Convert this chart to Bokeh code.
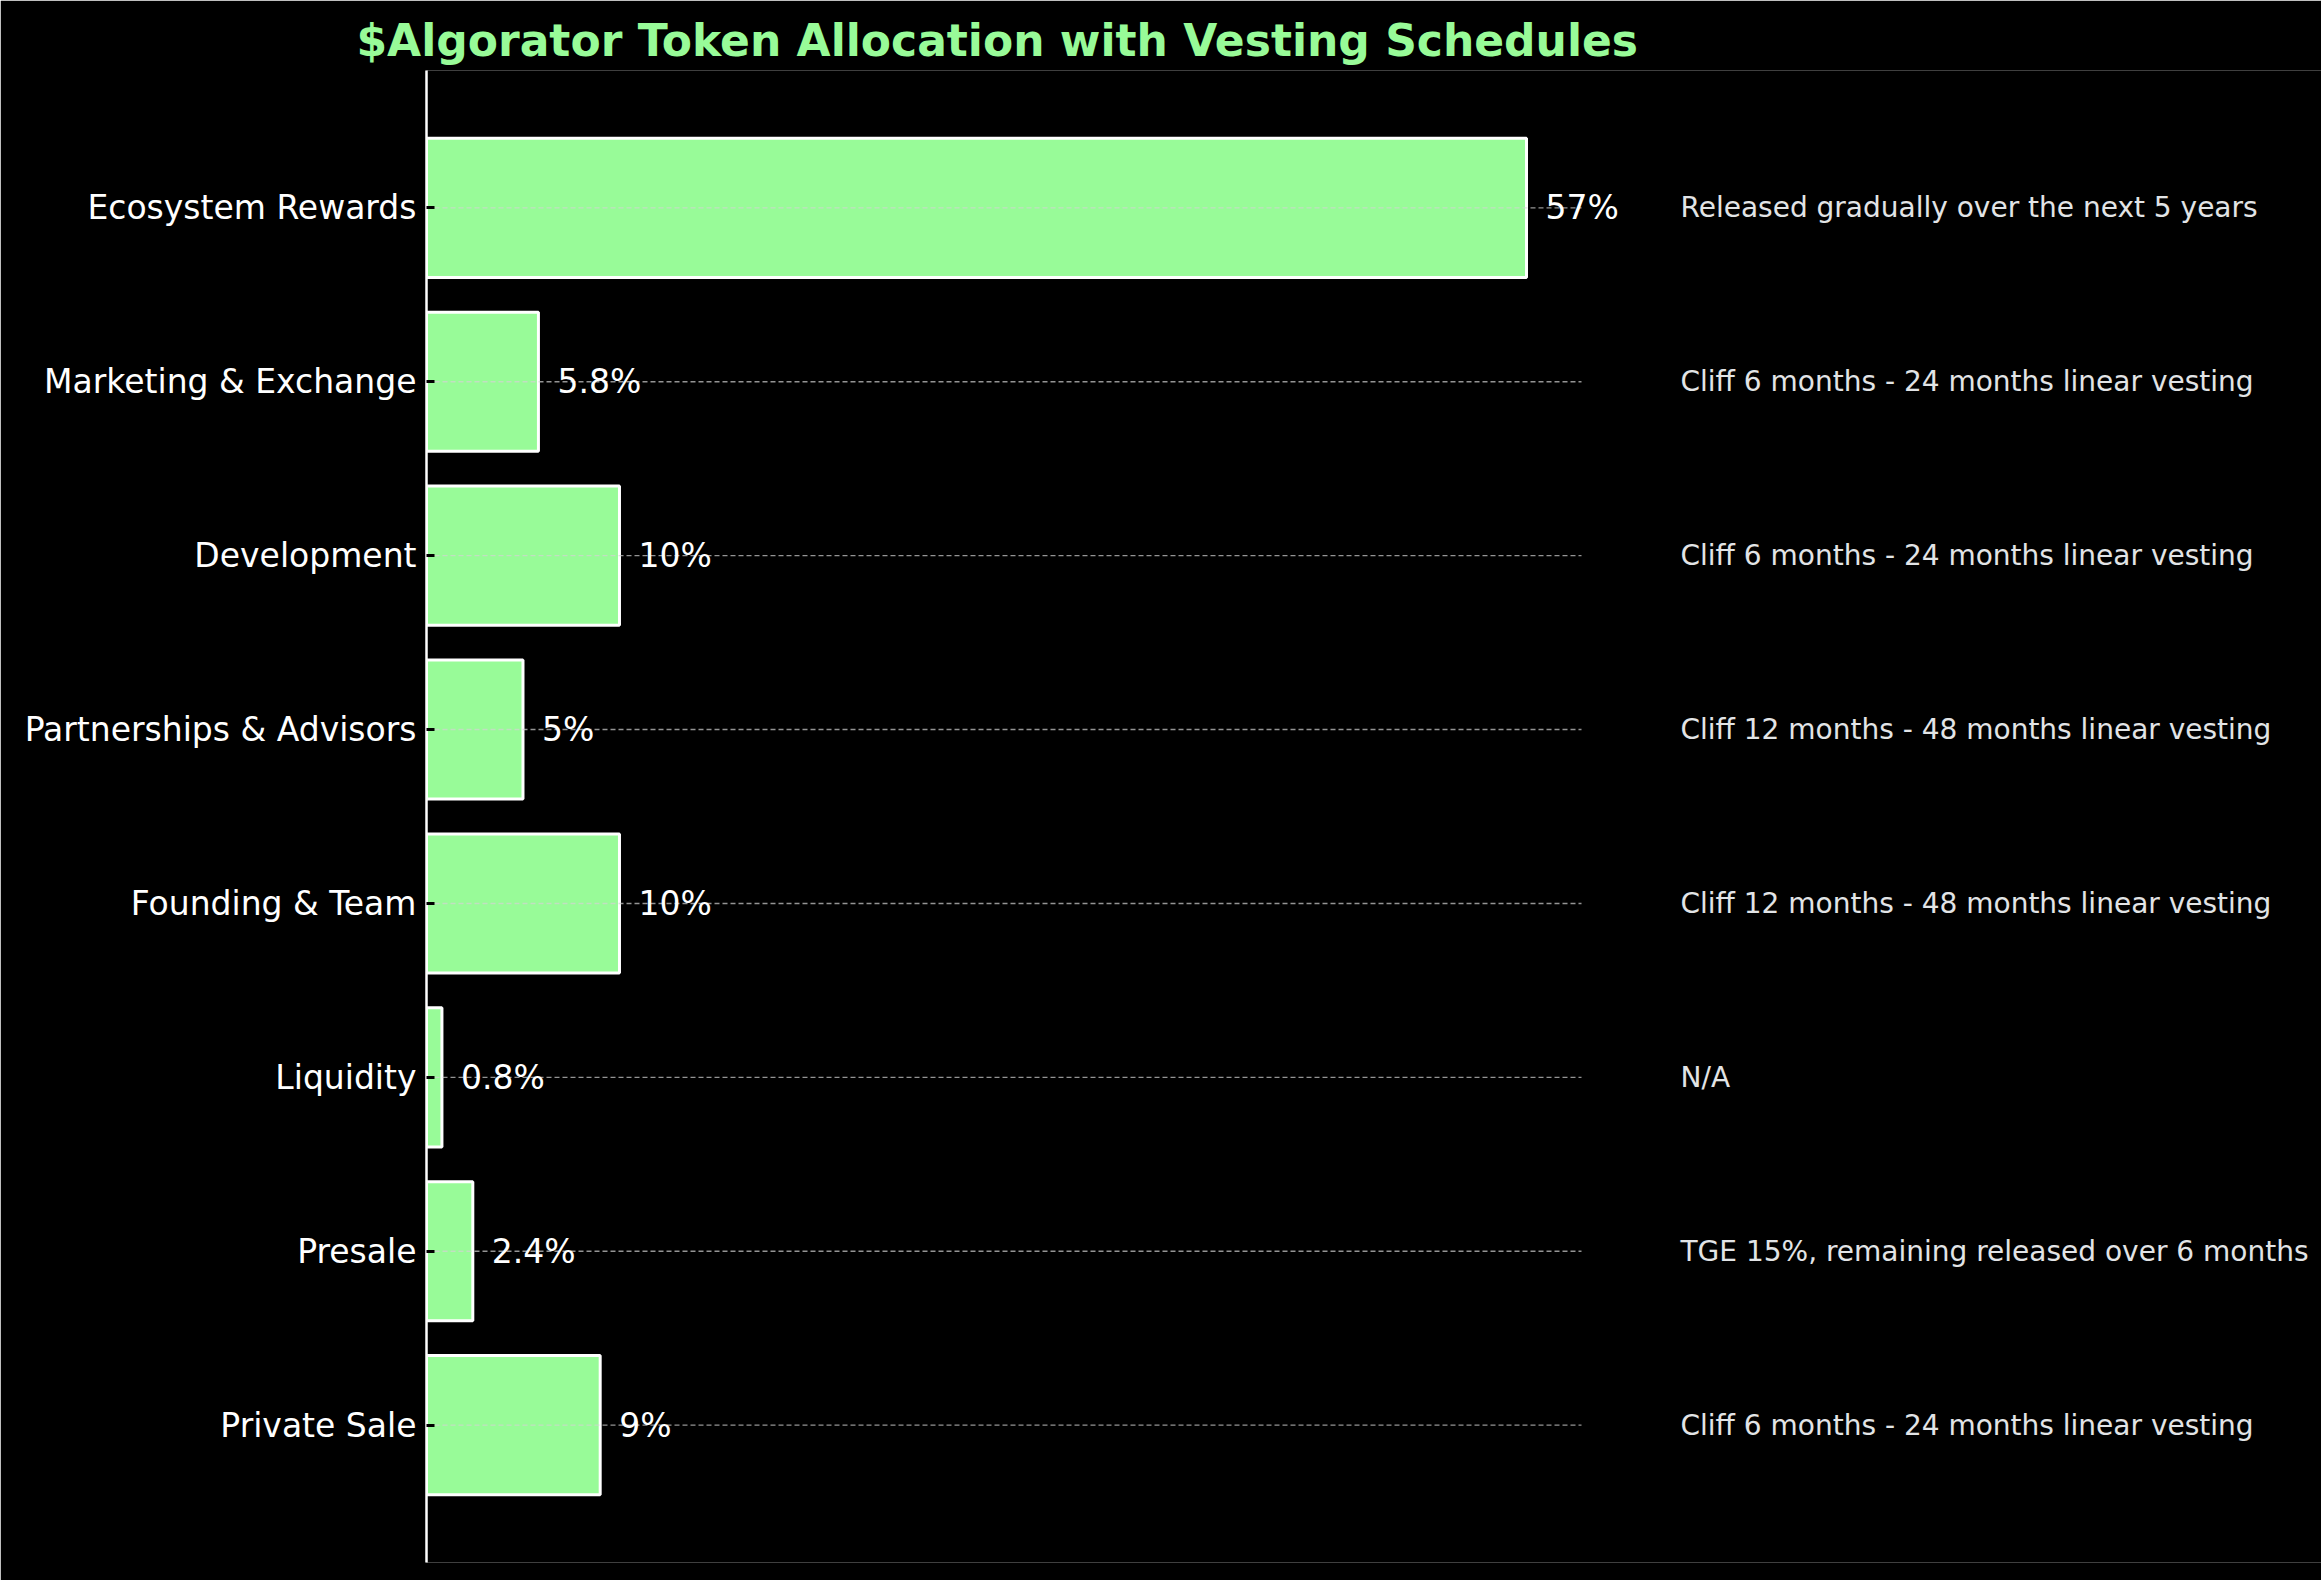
from bokeh.plotting import figure
from bokeh.models import Range1d, FactorRange, ColumnDataSource
from bokeh.core.properties import value
from bokeh.embed import file_html
from bokeh.resources import INLINE

# ---- data ----
categories = ["Ecosystem Rewards", "Marketing & Exchange", "Development",
              "Partnerships & Advisors", "Founding & Team", "Liquidity",
              "Presale", "Private Sale"]
percentages = [57, 5.8, 10, 5, 10, 0.8, 2.4, 9]
pct_labels = ["57%", "5.8%", "10%", "5%", "10%", "0.8%", "2.4%", "9%"]
vesting = ["Released gradually over the next 5 years",
           "Cliff 6 months - 24 months linear vesting",
           "Cliff 6 months - 24 months linear vesting",
           "Cliff 12 months - 48 months linear vesting",
           "Cliff 12 months - 48 months linear vesting",
           "N/A",
           "TGE 15%, remaining released over 6 months",
           "Cliff 6 months - 24 months linear vesting"]
title_text = "$Algorator Token Allocation with Vesting Schedules"

# ---- styling constants ----
BAR = "#98FB98"
FONT = "DejaVu Sans"
xmax = max(percentages) * 1.05          # end of the bar axes
vest_x = max(percentages) * 1.14        # where the vesting notes start

W, H = 2321, 1580
frame_left, frame_top, axes_w, frame_h = 426, 70, 1155, 1492
frame_w = W - frame_left
xend = xmax * frame_w / axes_w

src = ColumnDataSource(dict(cat=categories, pct=percentages, lbl=pct_labels,
                            vest=vesting))

p = figure(width=W, height=H,
           y_range=FactorRange(factors=list(reversed(categories)),
                               range_padding=0.0725, range_padding_units="percent"),
           x_range=Range1d(0, xend),
           output_backend="svg", toolbar_location=None,
           background_fill_color="black", border_fill_color="black",
           min_border_left=frame_left, min_border_top=frame_top,
           min_border_right=0,
           min_border_bottom=H - frame_top - frame_h)
p.outline_line_color = None

p.hbar(y="cat", left=0, right="pct", height=0.8, source=src,
       fill_color=BAR, line_color="white", line_width=3)

# dashed row lines across the bar axes only
p.segment(x0=0, x1=xmax, y0="cat", y1="cat", source=src,
          line_color="#d3d3d3", line_alpha=0.7, line_dash="5 3", line_width=1.4)

p.xaxis.visible = False
p.xgrid.visible = False
p.ygrid.visible = False

ax = p.yaxis[0]
ax.axis_line_color = "white"
ax.axis_line_width = 2.5
ax.major_tick_in = 8
ax.major_tick_out = 0
ax.major_tick_line_color = "black"
ax.major_tick_line_width = 3
ax.minor_tick_line_color = None
ax.major_label_text_color = "white"
ax.major_label_text_font = FONT
ax.major_label_text_font_size = "33px"
ax.major_label_standoff = 10

p.text(x="pct", y="cat", text="lbl", source=src, x_offset=19,
       text_color="white", text_font=value(FONT), text_font_size="33px",
       text_align="left", text_baseline="middle")

p.text(x=vest_x, y="cat", text="vest", source=src,
       text_color="#e2e4e6", text_font=value(FONT), text_font_size="28px",
       text_align="left", text_baseline="middle")

p.title.text = title_text
p.title.text_color = BAR
p.title.text_font = FONT
p.title.text_font_size = "44px"
p.title.text_font_style = "bold"
p.title.align = "left"
p.title.offset = -70
p.title.standoff = 10

html = file_html(p, INLINE)
open("out.html", "w").write(html)
